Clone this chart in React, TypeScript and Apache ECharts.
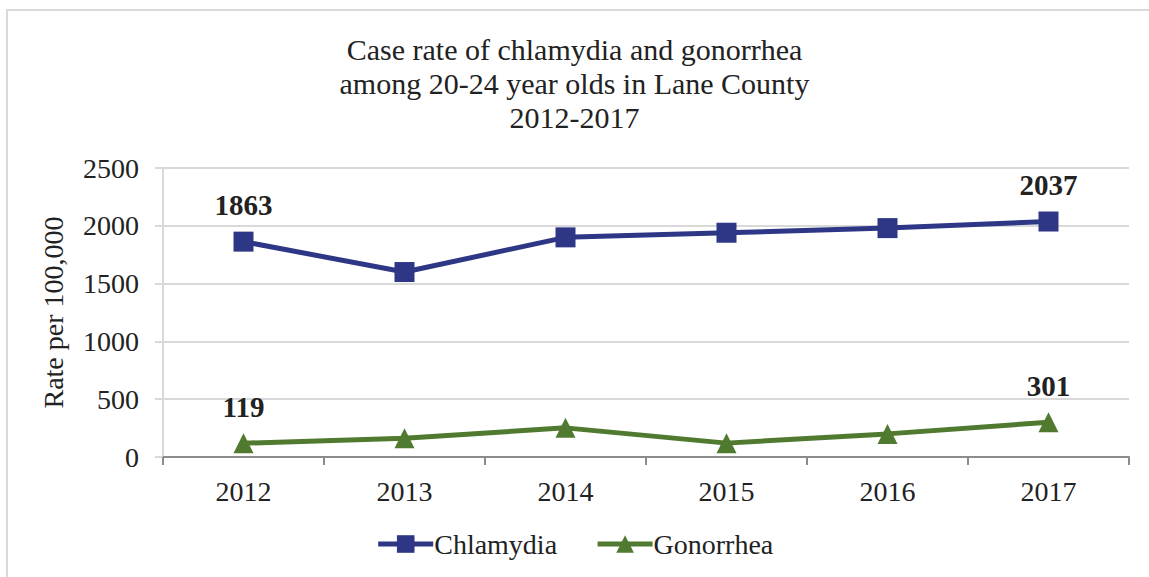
import React, { useEffect, useRef } from "react";
import * as echarts from "echarts";

const years = ["2012", "2013", "2014", "2015", "2016", "2017"];
const chlamydia = [1863, 1600, 1900, 1940, 1980, 2037];
const gonorrhea = [119, 163, 252, 120, 200, 301];
const yTicks = { min: 0, max: 2500, interval: 500 };
const titleLines = [
  "Case rate of chlamydia and gonorrhea",
  "among 20-24 year olds in Lane County",
  "2012-2017",
];

const FONT = "Liberation Serif";
const FS = 28;
const BLUE = "#2E3686";
const GREEN = "#4F7A2F";

function withEndLabels(values: number[]) {
  return values.map((v, i) => ({
    value: v,
    label: { show: i === 0 || i === values.length - 1 },
  }));
}

export default function App() {
  const ref = useRef<HTMLDivElement>(null);
  useEffect(() => {
    if (!ref.current) return;
    const chart = echarts.init(ref.current, undefined, { renderer: "svg" });
    const labelStyle = {
      position: "top" as const,
      distance: 12,
      fontFamily: FONT,
      fontWeight: "bold" as const,
      fontSize: 29,
      color: "#222",
    };
    chart.setOption({
      animation: false,
      backgroundColor: "#fff",
      graphic: [
        {
          type: "rect",
          shape: { x: 7, y: 10, width: 1200, height: 620 },
          style: { fill: "none", stroke: "#d9d9d9", lineWidth: 2 },
          silent: true,
        },
      ],
      title: {
        text: titleLines.join("\n"),
        left: "center",
        top: 27,
        textStyle: {
          fontFamily: FONT,
          fontWeight: "normal",
          fontSize: 30,
          lineHeight: 34,
          color: "#222",
        },
      },
      legend: {
        bottom: 14,
        left: "center",
        itemWidth: 55,
        itemHeight: 22,
        itemGap: 38,
        textStyle: { fontFamily: FONT, fontSize: FS, color: "#222", padding: [0, 0, 0, -4] },
        lineStyle: { width: 5 },
        data: ["Chlamydia", "Gonorrhea"],
      },
      grid: { left: 163, right: 20, top: 168, bottom: 120 },
      xAxis: {
        type: "category",
        data: years,
        boundaryGap: true,
        axisLine: { lineStyle: { color: "#8c8c8c", width: 2 } },
        axisTick: { show: true, length: 8, lineStyle: { color: "#8c8c8c", width: 2 } },
        axisLabel: { fontFamily: FONT, fontSize: FS, color: "#222", margin: 20 },
      },
      yAxis: {
        type: "value",
        min: yTicks.min,
        max: yTicks.max,
        interval: yTicks.interval,
        name: "Rate per 100,000",
        nameLocation: "middle",
        nameGap: 96,
        nameTextStyle: { fontFamily: FONT, fontSize: FS, color: "#222" },
        axisLine: { show: true, lineStyle: { color: "#d9d9d9", width: 2 } },
        axisTick: { show: true, length: 8, lineStyle: { color: "#d9d9d9", width: 2 } },
        splitLine: { lineStyle: { color: "#d9d9d9", width: 2 } },
        axisLabel: {
          fontFamily: FONT,
          fontSize: FS,
          color: "#222",
          margin: 24,
          formatter: (v: number) => String(v),
        },
      },
      series: [
        {
          name: "Chlamydia",
          type: "line",
          data: withEndLabels(chlamydia),
          symbol: "rect",
          symbolSize: 20,
          lineStyle: { color: BLUE, width: 5 },
          itemStyle: { color: BLUE },
          label: labelStyle,
        },
        {
          name: "Gonorrhea",
          type: "line",
          data: withEndLabels(gonorrhea),
          symbol: "triangle",
          symbolSize: 20,
          lineStyle: { color: GREEN, width: 5 },
          itemStyle: { color: GREEN },
          label: labelStyle,
        },
      ],
    });
    return () => chart.dispose();
  }, []);
  return (
    <div
      ref={ref}
      style={{ position: "fixed", left: 0, top: 0, width: 1149, height: 577 }}
    />
  );
}
